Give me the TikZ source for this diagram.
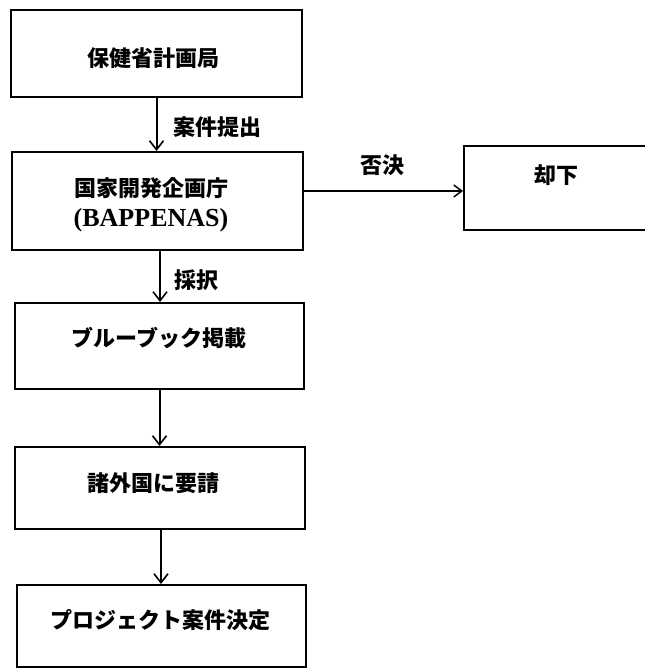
\documentclass[tikz,border=0pt]{standalone}
\usepackage{fontspec}
\newfontfamily\jp{Noto Sans CJK JP}
\newfontfamily\lat{Liberation Serif}
\usetikzlibrary{arrows.meta}
\begin{document}
\begin{tikzpicture}[x=1pt,y=-1pt,
  box/.style={draw,line width=2pt,inner sep=0pt},
  txt/.style={inner sep=0pt,align=center,font=\jp\bfseries\fontsize{22}{30}\selectfont},
  flow/.style={line width=2pt,-{Straight Barb[length=9pt,width=14pt,line width=1.6pt]}},
  side/.style={line width=1.4pt,-{Straight Barb[length=8pt,width=12pt,line width=1.5pt]}}]
\fill[white] (0,0) rectangle (644,668);
\useasboundingbox (0,0) rectangle (644,668);
% boxes
\node[box,minimum width=291pt,minimum height=87pt] (b1) at (156.5,53.5) {};
\node[box,minimum width=291pt,minimum height=98pt] (b2) at (157.5,201) {};
\node[box,minimum width=289pt,minimum height=86pt] (b3) at (159.5,346) {};
\node[box,minimum width=290pt,minimum height=82pt] (b4) at (160,488) {};
\node[box,minimum width=289pt,minimum height=82pt] (b5) at (161.5,626) {};
\node[box,minimum width=186pt,minimum height=84pt] (rej) at (557,188) {};
% texts
\node[txt] (t1) at (153,58) {保健省計画局};
\node[txt] (t2) at (151,205) {国家開発企画庁\\{\lat\bfseries\fontsize{26}{30}\selectfont (BAPPENAS)}};
\node[txt] (t3) at (159,338) {ブルーブック掲載};
\node[txt] (t4) at (153,483) {諸外国に要請};
\node[txt] (t5) at (160,620) {プロジェクト案件決定};
\node[txt] (t6) at (556,175) {却下};
% connectors
\draw[flow] (b1.south) -- (b1.south |- b2.north);
\draw[flow] ([xshift=2.5pt]b2.south) -- ([xshift=2.5pt]b2.south |- b3.north);
\draw[flow] (b3.south) -- (b3.south |- b4.north);
\draw[flow] ([xshift=1pt]b4.south) -- ([xshift=1pt]b4.south |- b5.north);
\draw[side] ([yshift=10pt]b2.east) -- ([yshift=10pt]b2.east -| rej.west);
% labels
\node[txt] (l1) at (217,127) {案件提出};
\node[txt] (l2) at (196,280) {採択};
\node[txt] (l3) at (382,165) {否決};
\end{tikzpicture}
\end{document}
